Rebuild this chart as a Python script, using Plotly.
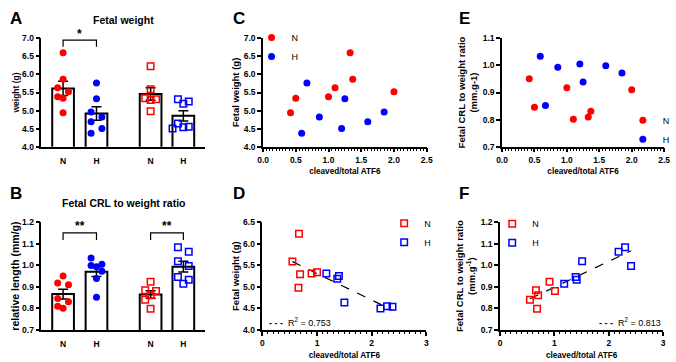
import numpy as np
import plotly.graph_objects as go

# ---------------- data ----------------
group_labels = ["N", "H", "N", "H"]

# cohort 1 (filled circles)
atf6_n1 = [0.42, 0.50, 1.00, 1.10, 1.33, 1.37, 2.00]
atf6_h1 = [0.59, 0.67, 0.86, 1.20, 1.25, 1.60, 1.85]
weight_n1 = [4.94, 5.34, 5.38, 5.63, 6.60, 5.87, 5.52]
weight_h1 = [4.37, 5.76, 4.82, 4.50, 5.33, 4.69, 4.96]
crl_n1 = [0.951, 0.846, 0.918, 0.801, 0.810, 0.831, 0.910]
crl_h1 = [1.034, 0.852, 0.993, 1.005, 0.939, 0.999, 0.972]

# cohort 2 (open squares)
atf6_n2_w = [0.55, 0.66, 0.67, 0.69, 0.90, 1.00]
weight_n2 = [5.59, 4.98, 6.23, 5.29, 5.31, 5.34]
atf6_h2_w = [1.17, 1.37, 1.40, 1.50, 2.16, 2.28, 2.38]
weight_h2 = [5.31, 5.19, 5.25, 4.64, 4.50, 4.55, 4.54]
atf6_n2_c = [0.55, 0.66, 0.68, 0.70, 0.91, 1.01]
crl_n2 = [0.840, 0.885, 0.799, 0.861, 0.924, 0.881]
atf6_h2_c = [1.18, 1.39, 1.41, 1.51, 2.18, 2.30, 2.41]
crl_h2 = [0.915, 0.946, 0.933, 1.019, 1.063, 1.084, 0.997]

r2_labels = ["R<sup>2</sup> = 0.753", "R<sup>2</sup> = 0.813"]
sig_labels = ["*", "**", "**"]

# ---------------- styling / layout ----------------
W, H = 676, 362
FONT = "Liberation Sans"
RED, BLUE = "#ff0000", "#0000ff"


def dx(a, b):
    return [a / W, b / W]


def dy(top, bottom):
    return [1 - bottom / H, 1 - top / H]


BAR_X = [0, 1, 2.62, 3.6]
BAR_RANGE = [-0.65, 4.26]
BAR_PX = 167 / (BAR_RANGE[1] - BAR_RANGE[0])
JIT = 5.5 / BAR_PX

DOM_A = dy(34.3, 145.7)
DOM_B = dy(223.3, 334.3)
RANGE_A = [4.0, 7.0]
RANGE_B = [0.7, 1.2]


def swarm(vals, px_per_unit, thr=7.0):
    order = sorted(range(len(vals)), key=lambda i: -vals[i])
    chains, cur = [], [order[0]]
    for a, b in zip(order, order[1:]):
        if (vals[a] - vals[b]) * px_per_unit < thr:
            cur.append(b)
        else:
            chains.append(cur)
            cur = [b]
    chains.append(cur)
    slot = {}
    placed = []
    for ch in chains:
        if len(ch) == 1:
            slot[ch[0]] = 0
            placed.append(ch[0])
            continue
        side = -1
        if placed:
            last = placed[-1]
            if slot[last] != 0 and (vals[last] - vals[ch[0]]) * px_per_unit < 2 * thr:
                side = -1 if slot[last] > 0 else 1
        for i in ch:
            chosen = 0
            for c in (side, -side, 0, 2 * side, -2 * side):
                if all(not (slot[j] == c and abs(vals[i] - vals[j]) * px_per_unit < thr) for j in placed):
                    chosen = c
                    break
            slot[i] = chosen
            placed.append(i)
            if chosen != 0:
                side = -1 if chosen > 0 else 1
    return [slot[i] for i in range(len(vals))]


def sem(v):
    v = np.asarray(v, float)
    return float(v.std(ddof=1) / np.sqrt(len(v)))


def to_paper(v, rng, dom):
    return dom[0] + (v - rng[0]) / (rng[1] - rng[0]) * (dom[1] - dom[0])


fig = go.Figure()


def bar_panel(xa, ya, sets, ypx):
    means = [float(np.mean(s)) for s, _, _ in sets]
    errs = [sem(s) for s, _, _ in sets]
    fig.add_trace(go.Bar(
        x=BAR_X, y=means, width=0.65, xaxis=xa, yaxis=ya, showlegend=False,
        marker=dict(color="white", line=dict(color="black", width=2)),
        error_y=dict(type="data", array=errs, color="black", thickness=1.5, width=5),
    ))
    for k, (vals, col, sym) in enumerate(sets):
        offs = swarm(vals, ypx)
        xs = [BAR_X[k] + o * JIT for o in offs]
        if sym == "circle":
            mk = dict(symbol="circle", size=7, color=col)
        else:
            mk = dict(symbol="square-open", size=6.5, color=col, line=dict(width=1.5, color=col))
        fig.add_trace(go.Scatter(x=xs, y=vals, mode="markers", marker=mk,
                                 xaxis=xa, yaxis=ya, showlegend=False, cliponaxis=False))


bar_panel("x", "y", [(weight_n1, RED, "circle"), (weight_h1, BLUE, "circle"),
                     (weight_n2, RED, "square"), (weight_h2, BLUE, "square")], 111.4 / 3.0)
bar_panel("x2", "y2", [(crl_n1, RED, "circle"), (crl_h1, BLUE, "circle"),
                       (crl_n2, RED, "square"), (crl_h2, BLUE, "square")], 111 / 0.5)


def scatter_panel(xa, ya, xn, yn, xh, yh, sym, legend, fit=False):
    if sym == "circle":
        mkn = dict(symbol="circle", size=7, color=RED)
        mkh = dict(symbol="circle", size=7, color=BLUE)
    else:
        mkn = dict(symbol="square-open", size=6.5, color=RED, line=dict(width=1.5, color=RED))
        mkh = dict(symbol="square-open", size=6.5, color=BLUE, line=dict(width=1.5, color=BLUE))
    if fit:
        xx = np.array(xn + xh)
        yy = np.array(yn + yh)
        m, b = np.polyfit(xx, yy, 1)
        xl = np.array([xx.min(), xx.max()])
        fig.add_trace(go.Scatter(x=xl, y=m * xl + b, mode="lines", showlegend=False,
                                 line=dict(color="black", width=1.2, dash="dash"),
                                 xaxis=xa, yaxis=ya))
    fig.add_trace(go.Scatter(x=xn, y=yn, mode="markers", name="N", marker=mkn,
                             xaxis=xa, yaxis=ya, legend=legend, cliponaxis=False))
    fig.add_trace(go.Scatter(x=xh, y=yh, mode="markers", name="H", marker=mkh,
                             xaxis=xa, yaxis=ya, legend=legend, cliponaxis=False))


scatter_panel("x3", "y3", atf6_n1, weight_n1, atf6_h1, weight_h1, "circle", "legend")
scatter_panel("x4", "y4", atf6_n2_w, weight_n2, atf6_h2_w, weight_h2, "square", "legend2", True)
scatter_panel("x5", "y5", atf6_n1, crl_n1, atf6_h1, crl_h1, "circle", "legend3")
scatter_panel("x6", "y6", atf6_n2_c, crl_n2, atf6_h2_c, crl_h2, "square", "legend4", True)

tickfont = dict(family=FONT, size=8.5, color="black", weight="bold")


def tfont(size):
    return dict(family=FONT, size=size, color="black", weight="bold")


def ax(domain, rng, **kw):
    d = dict(domain=domain, range=rng, showline=True, linecolor="black", linewidth=1.5,
             ticks="outside", ticklen=4, tickwidth=1.5, tickcolor="black",
             showgrid=False, zeroline=False, tickfont=tickfont, fixedrange=True)
    d.update(kw)
    return d


def ytitle(t, size, standoff):
    return dict(text=t, font=tfont(size), standoff=standoff)


def xtitle(t, standoff=5):
    return dict(text=t, font=tfont(8.2), standoff=standoff)


minor05 = dict(dtick=0.05, ticklen=2.5, tickwidth=1, tickcolor="black", ticks="outside")
minor1 = dict(dtick=0.1, ticklen=2.5, tickwidth=1, tickcolor="black", ticks="outside")

layout = dict(
    width=W, height=H, margin=dict(l=0, r=0, t=0, b=0),
    paper_bgcolor="white", plot_bgcolor="white",
    font=dict(family=FONT, color="black"),
    barmode="overlay",
    # A
    xaxis=ax(dx(36, 203), BAR_RANGE, anchor="y", tickvals=BAR_X, ticktext=group_labels,
             tickcolor="rgba(0,0,0,0)", ticklen=5),
    yaxis=ax(DOM_A, RANGE_A, anchor="x", dtick=0.5, tickformat=".1f",
             title=ytitle("weight (g)", 8.5, 1)),
    # B
    xaxis2=ax(dx(36, 203), BAR_RANGE, anchor="y2", tickvals=BAR_X, ticktext=group_labels,
              tickcolor="rgba(0,0,0,0)", ticklen=5),
    yaxis2=ax(DOM_B, RANGE_B, anchor="x2", dtick=0.1, tickformat=".1f",
              title=ytitle("relative length (mm/g)", 10.5, 0)),
    # C
    xaxis3=ax(dx(261.7, 428.3), [0, 2.5], anchor="y3", dtick=0.5, tickformat=".1f",
              minor=minor05, title=xtitle("cleaved/total ATF6")),
    yaxis3=ax(dy(34.3, 145.7), [4.0, 7.0], anchor="x3", dtick=0.5, tickformat=".1f",
              title=ytitle("Fetal weight (g)", 9.5, 2)),
    # D
    xaxis4=ax(dx(261, 428), [0, 3], anchor="y4", dtick=1, tickformat="d",
              minor=minor1, title=xtitle("cleaved/total ATF6")),
    yaxis4=ax(dy(223.3, 334.3), [4.0, 6.5], anchor="x4", dtick=0.5, tickformat=".1f",
              title=ytitle("Fetal weight (g)", 9.5, 2)),
    # E
    xaxis5=ax(dx(505, 670), [0, 2.5], anchor="y5", dtick=0.5, tickformat=".1f",
              minor=minor05, title=xtitle("cleaved/total ATF6")),
    yaxis5=ax(dy(34.3, 145.7), [0.7, 1.1], anchor="x5", dtick=0.1, tickformat=".1f",
              title=ytitle("Fetal CRL to weight ratio<br>(mm.g-1)", 9.5, 3)),
    # F
    xaxis6=ax(dx(503, 669), [0, 3], anchor="y6", dtick=1, tickformat="d",
              minor=minor1, title=xtitle("cleaved/total ATF6")),
    yaxis6=ax(dy(223.3, 334.3), [0.7, 1.2], anchor="x6", dtick=0.1, tickformat=".1f",
              title=ytitle("Fetal CRL to weight ratio<br>(mm.g<sup>-1</sup>)", 9.5, 3)),
)

legfont = dict(family=FONT, size=9, color="black")


def leg(xp, yp, xanchor="left", yanchor="top"):
    return dict(x=xp / W, y=1 - yp / H, xanchor=xanchor, yanchor=yanchor,
                bgcolor="rgba(0,0,0,0)", font=legfont, itemwidth=30,
                tracegroupgap=0, borderwidth=0)


layout["legend"] = leg(250, 18.5)
layout["legend2"] = leg(385, 209.5)
layout["legend3"] = leg(628, 153, yanchor="bottom")
layout["legend4"] = leg(495, 210)

fig.update_layout(**layout)

# significance brackets
brackets = [("x", "y", RANGE_A, DOM_A, BAR_X[0], BAR_X[1], 6.77, 6.95, 7.12, sig_labels[0]),
            ("x2", "y2", RANGE_B, DOM_B, BAR_X[0], BAR_X[1], 1.117, 1.15, 1.183, sig_labels[1]),
            ("x2", "y2", RANGE_B, DOM_B, BAR_X[2], BAR_X[3], 1.117, 1.15, 1.183, sig_labels[2])]
for xa, ya, rng, dom, x0, x1, ylo, yhi, ystar, lab in brackets:
    fig.add_shape(type="path", xref=xa, yref=ya,
                  path=f"M {x0},{ylo} L {x0},{yhi} L {x1},{yhi} L {x1},{ylo}",
                  line=dict(color="black", width=1.2))
    fig.add_annotation(x=(x0 + x1) / 2, y=to_paper(ystar, rng, dom), xref=xa, yref="paper",
                       text=f"<b>{lab}</b>", showarrow=False, yanchor="middle",
                       font=dict(family=FONT, size=12, color="black"))

# R^2 labels with dashed-line key
fig.add_annotation(x=266 / W, y=1 - 325.7 / H, xref="paper", yref="paper",
                   text="<b>- - -</b>  " + r2_labels[0], showarrow=False,
                   xanchor="left", yanchor="middle", font=dict(family=FONT, size=9, color="black"))
fig.add_annotation(x=669 / W, y=1 - 325.7 / H, xref="paper", yref="paper",
                   text="<b>- - -</b>  " + r2_labels[1], showarrow=False,
                   xanchor="right", yanchor="middle", font=dict(family=FONT, size=9, color="black"))

# titles
for txt, xc, yc in [("Fetal weight", 120, 15), ("Fetal CRL to weight ratio", 119.5, 204)]:
    fig.add_annotation(x=xc / W, y=1 - yc / H, xref="paper", yref="paper", text=f"<b>{txt}</b>",
                       showarrow=False, xanchor="center", yanchor="middle",
                       font=dict(family=FONT, size=10.5, color="black"))

# panel letters
for lt, xl, yl in [("A", 2, 2), ("B", 2, 182), ("C", 229, 2), ("D", 229, 182), ("E", 459, 2), ("F", 459, 182)]:
    fig.add_annotation(x=xl / W, y=1 - yl / H, xref="paper", yref="paper", text=f"<b>{lt}</b>",
                       showarrow=False, xanchor="left", yanchor="top",
                       font=dict(family=FONT, size=17, color="black"))

# remove the default page margin so the figure sits at the window's top-left corner
fig.write_html("out.html", config={"displayModeBar": False},
               post_script="document.body.style.margin='0px';")
